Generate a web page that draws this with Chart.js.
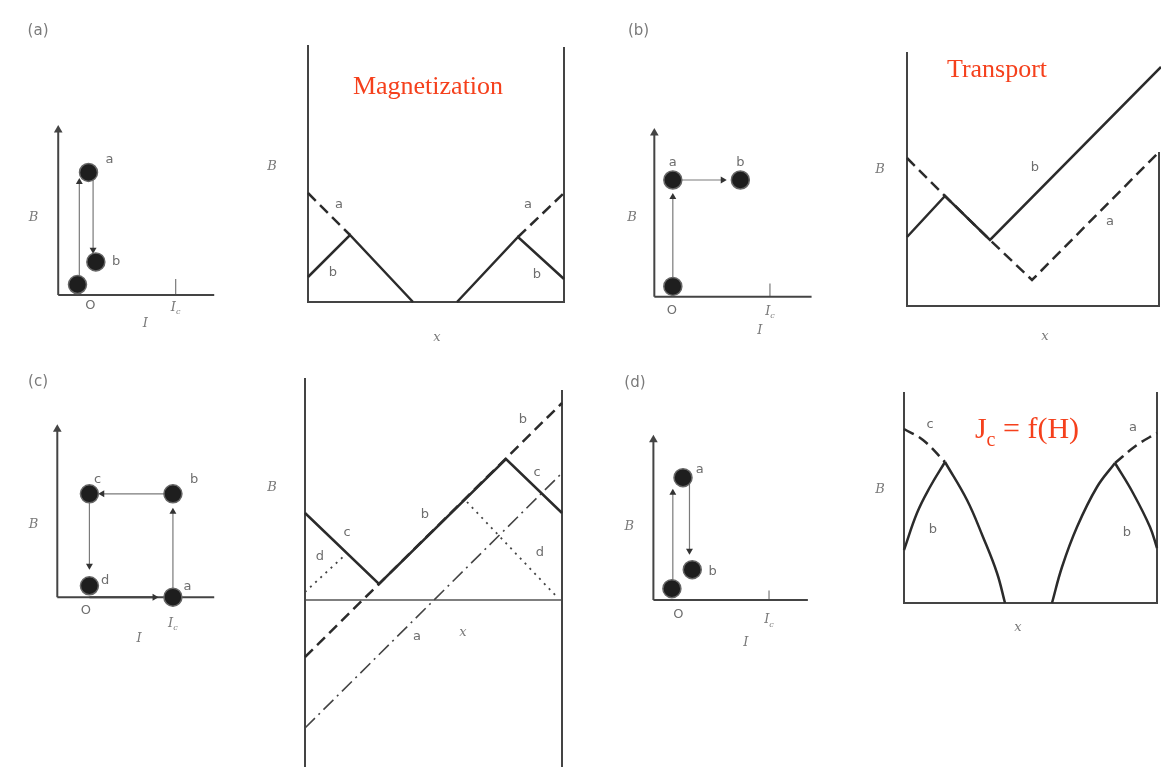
<!DOCTYPE html>
<html>
<head>
<meta charset="utf-8">
<script src="https://cdn.jsdelivr.net/npm/chart.js@4.4.1/dist/chart.umd.min.js"></script>
<style>
  html, body { margin: 0; background: #fff; }
  #fig { position: relative; width: 1161px; height: 767px; overflow: hidden; }
  #fig canvas { position: absolute; }
</style>
</head>
<body>
<div id="fig"></div>
<script>
// All diagram values are in panel units (1 unit = 10 px), origin at the panel's axis corner.

// (a) I-B path: cool, raise field, lower field
const aDots = [[2.1, 1.1], [3.3, 13.0], [4.1, 3.5]];
const aUp = [[2.3, 1.1], [2.3, 12.0]];
const aDown = [[3.8, 13.0], [3.8, 4.8]];
const aIcTick = [[12.8, 0], [12.8, 1.7]];
// (a) magnetization profile
const magFrame = [[0, 25.7], [0, 0], [25.6, 0], [25.6, 25.5]];
const magBLeft = [[0, 2.5], [4.2, 6.7], [10.5, 0]];
const magBRight = [[14.9, 0], [21.0, 6.5], [25.6, 2.3]];
const magALeft = [[0, 10.9], [4.2, 6.7]];
const magARight = [[21.0, 6.5], [25.6, 10.9]];

// (b) I-B path: raise field, then current
const bDots = [[2.0, 1.1], [2.0, 12.4], [9.3, 12.4]];
const bUp = [[2.0, 1.1], [2.0, 10.6]];
const bRight = [[2.0, 12.4], [7.4, 12.4]];
const bIcTick = [[12.5, 0], [12.5, 1.4]];
// (b) transport profile
const trFrameL = [[0, 25.4], [0, 0], [25.2, 0], [25.2, 15.4]];
const trB = [[0, 6.9], [3.8, 11.0], [8.3, 6.6], [25.4, 23.9]];
const trA = [[0, 14.8], [3.8, 11.0], [8.3, 6.6], [12.5, 2.6], [25.2, 15.4]];

// (c) I-B loop
const cDots = [[3.5, 1.2], [12.6, 0], [12.6, 10.9], [3.5, 10.9]];
const cOA = [[3.5, 0], [10.6, 0]];
const cAB = [[12.6, 0], [12.6, 9.0]];
const cBC = [[12.6, 10.9], [4.9, 10.9]];
const cCD = [[3.5, 10.9], [3.5, 3.3]];
// (c) profile
const cwLeft = [[0, -16.7], [0, 22.2]];
const cwRight = [[25.7, -16.7], [25.7, 21.0]];
const cBase = [[0, 0], [25.7, 0]];
const cSolid = [[0, 8.7], [7.4, 1.6], [20.1, 14.1], [25.7, 8.7]];
const cDashB = [[0, -5.7], [25.7, 19.7]];
const cDashDotA = [[0, -12.8], [25.7, 12.7]];
const cDotLeft = [[0, 0.8], [4.0, 4.5]];
const cDotRight = [[16.2, 9.8], [25.2, 0.3]];

// (d) I-B path
const dDots = [[2.0, 1.2], [3.2, 12.9], [4.2, 3.2]];
const dUp = [[2.1, 1.2], [2.1, 11.3]];
const dDown = [[3.9, 12.9], [3.9, 5.2]];
const dIcTick = [[12.5, 0], [12.5, 1.0]];
// (d) field-dependent Jc profile
const jcFrame = [[0, 21.1], [0, 0], [25.3, 0], [25.3, 21.1]];
const jcRiseL = [[0, 5.3], [1.3, 9.0], [2.6, 11.6], [4.1, 14.1]];
const jcFallL = [[4.1, 14.1], [6.3, 10.3], [7.9, 6.6], [9.3, 3.0], [10.1, 0]];
const jcRiseR = [[14.8, 0], [15.8, 3.6], [17.3, 7.6], [19.3, 11.6], [21.1, 14.0]];
const jcFallR = [[21.1, 14.0], [22.9, 11.0], [24.6, 7.6], [25.3, 5.5]];
const jcDashL = [[0, 17.4], [1.9, 16.3], [4.1, 14.1]];
const jcDashR = [[21.1, 14.0], [23.3, 15.8], [25.3, 17.0]];

const UNIT = 10;
const INK = '#2b2b2b';
const AXIS = '#444';
const THIN = '#7a7a7a';
const fig = document.getElementById('fig');

const P = arr => arr.map(([x, y]) => ({ x, y }));

function line(arr, o = {}) {
  return Object.assign({
    data: P(arr), showLine: true, borderColor: INK, borderWidth: 2.5,
    pointRadius: 0, fill: false, tension: 0
  }, o);
}
function dashed(arr, o = {}) { return line(arr, Object.assign({ borderDash: [11, 6] }, o)); }
function arrow(arr, rot, o = {}) {
  return line(arr, Object.assign({
    borderColor: THIN, borderWidth: 1.2,
    pointRadius: [0, 4], pointStyle: 'triangle', pointRotation: rot,
    pointBackgroundColor: '#333', pointBorderColor: '#333', pointBorderWidth: 0
  }, o));
}
function axisY(top) {
  return line([[0, 0], [0, top]], {
    borderColor: AXIS, borderWidth: 2, pointRadius: [0, 5], pointStyle: 'triangle',
    pointBackgroundColor: AXIS, pointBorderWidth: 0
  });
}
function dots(arr) {
  return {
    data: P(arr), showLine: false, pointRadius: 9,
    pointBackgroundColor: '#1e1e1e', pointBorderColor: '#666', pointBorderWidth: 1.5
  };
}

const FONTS = {
  tag: ['13px "DejaVu Sans"', '#6e6e6e'],
  ax: ['italic 13px "DejaVu Serif"', '#7a7a7a'],
  panel: ['15px "DejaVu Sans"', '#7a7a7a'],
  red: ['26px "Liberation Serif"', '#f5401c'],
  redBig: ['30px "Liberation Serif"', '#f5401c']
};

// text notes placed in data units; "X_y rest" draws y as a subscript
function notesPlugin(items) {
  return {
    id: 'notes',
    afterDatasetsDraw(chart) {
      const { ctx, scales: { x, y } } = chart;
      ctx.save();
      ctx.textBaseline = 'middle';
      ctx.textAlign = 'left';
      items.forEach(([vx, vy, text, kind]) => {
        const [font, color] = FONTS[kind];
        const size = parseFloat(font.match(/(\d+)px/)[1]);
        const subFont = font.replace(/\d+px/, Math.round(size * 0.65) + 'px');
        const parts = [];
        const i = text.indexOf('_');
        if (i >= 0) {
          parts.push([text.slice(0, i), font, 0]);
          parts.push([text.charAt(i + 1), subFont, size * 0.35]);
          if (text.length > i + 2) parts.push([text.slice(i + 2), font, 0]);
        } else parts.push([text, font, 0]);
        let w = 0;
        parts.forEach(p => { ctx.font = p[1]; p.push(ctx.measureText(p[0]).width); w += p[3]; });
        let px = x.getPixelForValue(vx) - w / 2;
        const py = y.getPixelForValue(vy);
        ctx.fillStyle = color;
        parts.forEach(([t, f, dy, tw]) => { ctx.font = f; ctx.fillText(t, px, py + dy); px += tw; });
      });
      ctx.restore();
    }
  };
}

function panel(box, origin, datasets, notes) {
  const [left, top, w, h] = box;
  const c = document.createElement('canvas');
  c.width = w; c.height = h;
  c.style.left = left + 'px'; c.style.top = top + 'px';
  fig.appendChild(c);
  new Chart(c, {
    type: 'scatter',
    data: { datasets },
    options: {
      responsive: false, animation: false, events: [],
      layout: { padding: 0 },
      scales: {
        x: { type: 'linear', display: false, min: (left - origin[0]) / UNIT, max: (left + w - origin[0]) / UNIT },
        y: { type: 'linear', display: false, min: (origin[1] - top - h) / UNIT, max: (origin[1] - top) / UNIT }
      },
      plugins: { legend: { display: false }, tooltip: { enabled: false } }
    },
    plugins: [notesPlugin(notes)]
  });
}

// (a) left
panel([0, 0, 255, 360], [52, 302], [
  dots(aDots),
  arrow(aUp, 0),
  arrow(aDown, 180),
  axisY(17.5),
  line([[0, 0], [17, 0]], { borderColor: AXIS, borderWidth: 2 }),
  line(aIcTick, { borderColor: THIN, borderWidth: 1.2 })
], [
  [-2.2, 28.0, '(a)', 'panel'], [5.6, 14.4, 'a', 'tag'], [6.3, 3.5, 'b', 'tag'],
  [3.5, -1.1, 'O', 'tag'], [12.8, -1.3, 'I_c', 'ax'], [9.5, -3.1, 'I', 'ax'], [-2.7, 8.2, 'B', 'ax']
]);

// (a) right: magnetization
panel([255, 30, 325, 330], [308, 302], [
  line(magBLeft), line(magBRight),
  dashed(magALeft), dashed(magARight),
  line(magFrame, { borderColor: AXIS, borderWidth: 2 })
], [
  [12.0, 21.5, 'Magnetization', 'red'], [3.1, 9.7, 'a', 'tag'], [2.5, 2.9, 'b', 'tag'],
  [22.0, 9.7, 'a', 'tag'], [22.9, 2.7, 'b', 'tag'], [12.9, -3.6, 'x', 'ax'], [-3.6, 13.5, 'B', 'ax']
]);

// (b) left
panel([580, 0, 280, 360], [649, 304], [
  dots(bDots),
  arrow(bUp, 0),
  arrow(bRight, 90),
  axisY(17.4),
  line([[0, 0], [17, 0]], { borderColor: AXIS, borderWidth: 2 }),
  line(bIcTick, { borderColor: THIN, borderWidth: 1.2 })
], [
  [-1.7, 28.2, '(b)', 'panel'], [2.0, 14.2, 'a', 'tag'], [9.3, 14.2, 'b', 'tag'],
  [1.9, -1.5, 'O', 'tag'], [12.5, -1.6, 'I_c', 'ax'], [11.4, -3.6, 'I', 'ax'], [-2.4, 8.4, 'B', 'ax']
]);

// (b) right: transport
panel([860, 30, 301, 330], [907, 306], [
  line(trB),
  dashed(trA),
  line(trFrameL, { borderColor: AXIS, borderWidth: 2 })
], [
  [9.0, 23.6, 'Transport', 'red'], [12.8, 13.8, 'b', 'tag'], [20.3, 8.4, 'a', 'tag'],
  [13.8, -3.1, 'x', 'ax'], [-2.7, 13.6, 'B', 'ax']
]);

// (c) left
panel([0, 360, 255, 407], [51, 599], [
  dots(cDots),
  arrow(cOA, 90, { borderColor: AXIS, borderWidth: 2 }),
  arrow(cAB, 0),
  arrow(cBC, 270),
  arrow(cCD, 180),
  axisY(17.7),
  line([[0, 0], [17.1, 0]], { borderColor: AXIS, borderWidth: 2 })
], [
  [-2.1, 22.7, '(c)', 'panel'], [4.4, 12.4, 'c', 'tag'], [14.9, 12.4, 'b', 'tag'],
  [5.2, 1.7, 'd', 'tag'], [14.2, 1.1, 'a', 'tag'], [3.1, -1.4, 'O', 'tag'],
  [12.6, -2.8, 'I_c', 'ax'], [8.9, -4.4, 'I', 'ax'], [-2.6, 7.6, 'B', 'ax']
]);

// (c) right
panel([255, 360, 325, 407], [305, 600], [
  line(cSolid),
  dashed(cDashB),
  line(cDashDotA, { borderWidth: 1.6, borderDash: [14, 5, 2, 5], borderColor: '#444' }),
  line(cDotLeft, { borderWidth: 1.8, borderDash: [2, 5], borderColor: '#444' }),
  line(cDotRight, { borderWidth: 1.8, borderDash: [2, 5], borderColor: '#444' }),
  line(cwLeft, { borderColor: AXIS, borderWidth: 2 }),
  line(cwRight, { borderColor: AXIS, borderWidth: 2 }),
  line(cBase, { borderColor: '#555', borderWidth: 1.6 })
], [
  [21.8, 18.0, 'b', 'tag'], [23.2, 12.7, 'c', 'tag'], [12.0, 8.5, 'b', 'tag'],
  [4.2, 6.7, 'c', 'tag'], [1.5, 4.3, 'd', 'tag'], [23.5, 4.7, 'd', 'tag'],
  [11.2, -3.7, 'a', 'tag'], [15.8, -3.3, 'x', 'ax'], [-3.3, 11.2, 'B', 'ax']
]);

// (d) left
panel([580, 360, 280, 407], [648, 602], [
  dots(dDots),
  arrow(dUp, 0),
  arrow(dDown, 180),
  axisY(16.9),
  line([[0, 0], [16.7, 0]], { borderColor: AXIS, borderWidth: 2 }),
  line(dIcTick, { borderColor: THIN, borderWidth: 1.2 })
], [
  [-2.0, 22.9, '(d)', 'panel'], [5.0, 13.7, 'a', 'tag'], [6.4, 3.0, 'b', 'tag'],
  [2.7, -1.5, 'O', 'tag'], [12.5, -2.1, 'I_c', 'ax'], [10.0, -4.5, 'I', 'ax'], [-2.6, 7.7, 'B', 'ax']
]);

// (d) right: Jc = f(H)
panel([860, 370, 301, 397], [904, 603], [
  line(jcRiseL, { tension: 0.4 }), line(jcFallL, { tension: 0.4 }),
  line(jcRiseR, { tension: 0.4 }), line(jcFallR, { tension: 0.4 }),
  dashed(jcDashL, { tension: 0.4 }), dashed(jcDashR, { tension: 0.4 }),
  line(jcFrame, { borderColor: AXIS, borderWidth: 2 })
], [
  [12.3, 17.3, 'J_c = f(H)', 'redBig'], [2.6, 17.8, 'c', 'tag'], [2.9, 7.3, 'b', 'tag'],
  [22.9, 17.5, 'a', 'tag'], [22.3, 7.0, 'b', 'tag'], [11.4, -2.5, 'x', 'ax'], [-2.4, 11.3, 'B', 'ax']
]);
</script>
</body>
</html>
